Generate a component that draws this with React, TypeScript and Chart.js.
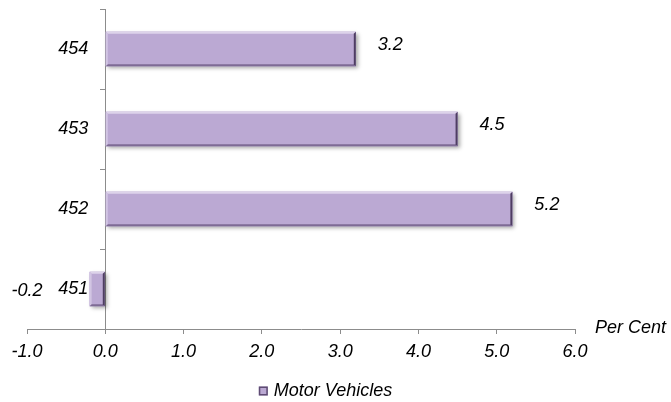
import React, { useEffect, useRef } from "react";
import { Chart, registerables } from "chart.js";

Chart.register(...registerables);

// Data
const categories: string[] = ["454", "453", "452", "451"];
const motorVehicles: number[] = [3.2, 4.5, 5.2, -0.2];
const seriesLabel = "Motor Vehicles";
const xMin = -1;
const xMax = 6;
const xStep = 1;
const axisTitle = "Per Cent";

const FONT_FAMILY = '"Liberation Sans", Arial, Helvetica, sans-serif';
const FONT_SIZE = 18;
const BAR_FILL = "#bba9d3";
const AXIS_COLOR = "#8c8c8c";

const italicFont = `italic ${FONT_SIZE}px ${FONT_FAMILY}`;

function barRect(el: any) {
  const p = el.getProps(["x", "y", "base", "height"], true);
  const left = Math.min(p.x, p.base);
  const right = Math.max(p.x, p.base);
  const top = p.y - p.height / 2;
  const bottom = p.y + p.height / 2;
  return { left, right, top, bottom, w: right - left, h: bottom - top };
}

// Soft drop shadow under each bar
const barShadow = {
  id: "barShadow",
  beforeDatasetsDraw(chart: any) {
    const ctx = chart.ctx;
    const meta = chart.getDatasetMeta(0);
    ctx.save();
    ctx.shadowColor = "rgba(0,0,0,0.35)";
    ctx.shadowBlur = 4;
    ctx.shadowOffsetX = 2;
    ctx.shadowOffsetY = 2;
    ctx.fillStyle = BAR_FILL;
    meta.data.forEach((el: any) => {
      const r = barRect(el);
      ctx.fillRect(r.left, r.top, r.w, r.h);
    });
    ctx.restore();
  },
};

// Bevelled edges on each bar
const barBevel = {
  id: "barBevel",
  afterDatasetsDraw(chart: any) {
    const ctx = chart.ctx;
    const meta = chart.getDatasetMeta(0);
    ctx.save();
    meta.data.forEach((el: any) => {
      const r = barRect(el);
      const e = 2;
      // top highlight
      ctx.fillStyle = "#ddd3ea";
      ctx.beginPath();
      ctx.moveTo(r.left, r.top);
      ctx.lineTo(r.right, r.top);
      ctx.lineTo(r.right - e, r.top + e);
      ctx.lineTo(r.left + e, r.top + e);
      ctx.closePath();
      ctx.fill();
      // left highlight
      ctx.fillStyle = "#d2c5e3";
      ctx.beginPath();
      ctx.moveTo(r.left, r.top);
      ctx.lineTo(r.left + e, r.top + e);
      ctx.lineTo(r.left + e, r.bottom - e);
      ctx.lineTo(r.left, r.bottom);
      ctx.closePath();
      ctx.fill();
      // bottom shade
      ctx.fillStyle = "#7e6b95";
      ctx.beginPath();
      ctx.moveTo(r.left, r.bottom);
      ctx.lineTo(r.left + e, r.bottom - e);
      ctx.lineTo(r.right - e, r.bottom - e);
      ctx.lineTo(r.right, r.bottom);
      ctx.closePath();
      ctx.fill();
      // right shade
      ctx.fillStyle = "#4e3e62";
      ctx.beginPath();
      ctx.moveTo(r.right, r.top);
      ctx.lineTo(r.right, r.bottom);
      ctx.lineTo(r.right - e, r.bottom - e);
      ctx.lineTo(r.right - e, r.top + e);
      ctx.closePath();
      ctx.fill();
    });
    ctx.restore();
  },
};

// Category labels left of the zero line, value labels beside bar ends
const textLabels = {
  id: "textLabels",
  afterDatasetsDraw(chart: any) {
    const ctx = chart.ctx;
    const meta = chart.getDatasetMeta(0);
    const data = chart.data.datasets[0].data as number[];
    const yScale = chart.scales.y;
    const zeroX = chart.scales.x.getPixelForValue(0);
    ctx.save();
    ctx.font = italicFont;
    ctx.fillStyle = "#000";
    ctx.textBaseline = "middle";

    ctx.textAlign = "right";
    (chart.data.labels as string[]).forEach((lab, i) => {
      ctx.fillText(lab, zeroX - 17, yScale.getPixelForValue(i));
    });

    meta.data.forEach((el: any, i: number) => {
      const v = data[i];
      const p = el.getProps(["x", "y"], true);
      if (v >= 0) {
        ctx.textAlign = "left";
        ctx.fillText(v.toFixed(1), p.x + 22, p.y - 4);
      } else {
        ctx.textAlign = "right";
        ctx.fillText(v.toFixed(1), p.x - 47, p.y + 2);
      }
    });
    ctx.restore();
  },
};

// Axis title at the right end of the value axis, plus the legend
const extras = {
  id: "extras",
  afterDraw(chart: any) {
    const ctx = chart.ctx;
    const area = chart.chartArea;
    ctx.save();
    ctx.font = italicFont;
    ctx.fillStyle = "#000";
    ctx.textBaseline = "middle";
    ctx.textAlign = "left";
    ctx.fillText(axisTitle, area.right + 20, area.bottom - 1);

    // legend
    const box = 9;
    const gap = 6;
    const tw = ctx.measureText(seriesLabel).width;
    const total = box + gap + tw;
    const cx = chart.width / 2 - 10;
    const ly = 391;
    const lx = cx - total / 2;
    ctx.fillStyle = BAR_FILL;
    ctx.fillRect(lx, ly - box / 2, box, box);
    ctx.strokeStyle = "#5e4c73";
    ctx.lineWidth = 1.5;
    ctx.strokeRect(lx + 0.75, ly - box / 2 + 0.75, box - 1.5, box - 1.5);
    ctx.fillStyle = "#000";
    ctx.fillText(seriesLabel, lx + box + gap, ly);
    ctx.restore();
  },
};

export default function App() {
  const canvasRef = useRef<HTMLCanvasElement | null>(null);

  useEffect(() => {
    if (!canvasRef.current) return;
    const chart = new Chart(canvasRef.current, {
      type: "bar",
      data: {
        labels: categories,
        datasets: [
          {
            label: seriesLabel,
            data: motorVehicles,
            backgroundColor: BAR_FILL,
            borderWidth: 0,
            categoryPercentage: 1,
            barPercentage: 0.43,
          },
        ],
      },
      options: {
        indexAxis: "y",
        responsive: false,
        animation: false,
        layout: { padding: { top: 9, left: 27, right: 96, bottom: 0 } },
        plugins: {
          legend: { display: false },
          tooltip: { enabled: false },
        },
        scales: {
          x: {
            type: "linear",
            position: "bottom",
            min: xMin,
            max: xMax,
            ticks: {
              stepSize: xStep,
              color: "#000",
              font: { family: FONT_FAMILY, size: FONT_SIZE, style: "italic" },
              padding: 7,
              maxRotation: 0,
              callback: (v: any) => Number(v).toFixed(1),
            },
            grid: {
              display: true,
              drawOnChartArea: false,
              drawTicks: true,
              tickLength: 5,
              color: AXIS_COLOR,
            },
            border: { display: true, color: AXIS_COLOR, width: 1 },
            afterFit: (scale: any) => {
              scale.height = 73;
            },
          },
          y: {
            type: "category",
            position: { x: 0 } as any,
            ticks: { display: false },
            grid: {
              display: true,
              drawOnChartArea: false,
              drawTicks: true,
              tickLength: 5,
              offset: true,
              color: AXIS_COLOR,
            },
            border: { display: true, color: AXIS_COLOR, width: 1 },
            afterFit: (scale: any) => {
              scale.paddingTop = 0;
              scale.paddingBottom = 0;
            },
          },
        },
      },
      plugins: [barShadow, barBevel, textLabels, extras],
    });
    return () => chart.destroy();
  }, []);

  return (
    <div style={{ position: "fixed", left: 0, top: 0, width: 671, height: 402, background: "#fff" }}>
      <canvas ref={canvasRef} width={671} height={402} style={{ display: "block" }} />
    </div>
  );
}
